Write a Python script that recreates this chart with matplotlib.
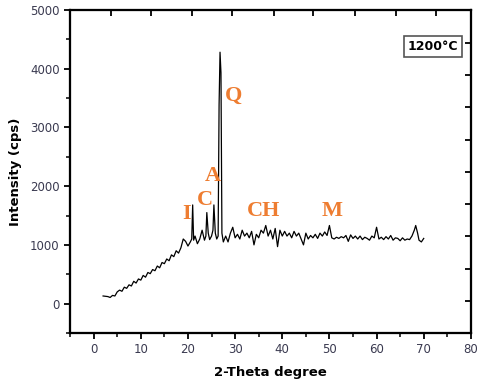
import matplotlib
matplotlib.use("Agg")
import matplotlib.pyplot as plt

# ---- data ----
two_theta = [2.0, 2.5, 3.0, 3.5, 4.0, 4.5, 5.0, 5.5, 6.0, 6.5, 7.0, 7.5, 8.0, 8.5, 9.0, 9.5,
             10.0, 10.5, 11.0, 11.5, 12.0, 12.5, 13.0, 13.5, 14.0, 14.5, 15.0, 15.5, 16.0, 16.5,
             17.0, 17.5, 18.0, 18.5, 19.0, 19.5, 20.0, 20.5, 20.8, 21.0, 21.2, 21.5, 22.0, 22.5,
             23.0, 23.5, 23.8, 24.0, 24.3, 24.6, 25.0, 25.3, 25.5, 25.8, 26.1, 26.4, 26.6, 26.8,
             27.0, 27.2, 27.5, 28.0, 28.5, 29.0, 29.5, 30.0, 30.5, 31.0, 31.5, 32.0, 32.5, 33.0,
             33.5, 34.0, 34.5, 35.0, 35.5, 36.0, 36.5, 37.0, 37.5, 38.0, 38.5, 39.0, 39.5, 40.0,
             40.5, 41.0, 41.5, 42.0, 42.5, 43.0, 43.5, 44.0, 44.5, 45.0, 45.5, 46.0, 46.5, 47.0,
             47.5, 48.0, 48.5, 49.0, 49.5, 50.0, 50.5, 51.0, 51.5, 52.0, 52.5, 53.0, 53.5, 54.0,
             54.5, 55.0, 55.5, 56.0, 56.5, 57.0, 57.5, 58.0, 58.5, 59.0, 59.5, 60.0, 60.5, 61.0,
             61.5, 62.0, 62.5, 63.0, 63.5, 64.0, 64.5, 65.0, 65.5, 66.0, 66.5, 67.0, 67.5, 68.0,
             68.3, 68.7, 69.0, 69.5, 70.0]
intensity = [130, 125, 120, 105, 140, 130, 200, 230, 210, 280, 260, 320, 300, 380, 350, 420,
             400, 480, 450, 530, 510, 580, 560, 640, 610, 700, 680, 760, 730, 830,
             800, 900, 860, 950, 1100, 1060, 980, 1050, 1100, 1680, 1080, 1150, 1020, 1100,
             1250, 1080, 1150, 1550, 1200, 1090, 1150, 1250, 1680, 1200, 1100, 1150, 3380, 4280,
             3930, 1200, 1050, 1150, 1050, 1200, 1300, 1120, 1180, 1100, 1250, 1150, 1200, 1120,
             1230, 1000, 1180, 1120, 1250, 1200, 1330, 1150, 1250, 1100, 1280, 970, 1250, 1150,
             1230, 1150, 1200, 1120, 1230, 1150, 1200, 1100, 1000, 1200, 1100, 1160, 1120, 1180,
             1110, 1200, 1150, 1220, 1160, 1330, 1120, 1100, 1130, 1110, 1140, 1120, 1160, 1060,
             1170, 1110, 1150, 1100, 1150, 1090, 1130, 1110, 1080, 1150, 1120, 1300, 1100, 1130,
             1090, 1140, 1100, 1160, 1080, 1120, 1110, 1070, 1120, 1080, 1100, 1090, 1150, 1250,
             1330, 1200, 1080, 1050, 1110]

phase_labels = ["I", "C", "A", "Q", "CH", "M"]
phase_x = [19.7, 23.5, 25.2, 29.7, 36.0, 50.6]
phase_y = [1520, 1770, 2170, 3530, 1570, 1570]

temp_label = "1200\u00b0C"

# ---- figure ----
fig = plt.figure(figsize=(4.8, 3.81), dpi=100)
ax = fig.add_axes([0.146, 0.126, 0.835, 0.848])

ax.plot(two_theta, intensity, color="black", lw=0.9)

ax.set_xlim(-5, 80)
ax.set_ylim(-500, 5000)
ax.set_xticks(range(0, 81, 10))
ax.set_xticks(range(-5, 81, 5), minor=True)
ax.set_yticks(range(0, 5001, 1000))
ax.set_yticks(range(-500, 5001, 500), minor=True)

tick_color = "#3a3a50"
ax.tick_params(which="major", direction="out", length=4, width=1.3,
               labelsize=8.5, labelcolor=tick_color, top=False, right=False)
ax.tick_params(which="minor", direction="out", length=3, width=1.1, top=False, right=False)

for s in ax.spines.values():
    s.set_linewidth(1.5)

# mirrored (inward) ticks on top/right
axt = ax.twiny()
axt.set_xlim(ax.get_xlim())
axt.set_xticks([3.6, 12.2, 20.8, 29.4, 38.3, 46.5, 55.4, 64.1, 72.7])
axt.tick_params(direction="in", length=4, width=1.3, labeltop=False)
axr = ax.twinx()
axr.set_ylim(ax.get_ylim())
axr.set_yticks([50, 595, 1155, 1700, 2245, 2790, 3350, 3895, 4440])
axr.tick_params(direction="in", length=4, width=1.3, labelright=False)
for a in (axt, axr):
    for s in a.spines.values():
        s.set_linewidth(1.5)

ax.set_xlabel("2-Theta degree", fontsize=9.5, fontweight="bold", labelpad=7)
ax.set_ylabel("Intensity (cps)", fontsize=9.5, fontweight="bold", labelpad=6)

orange = "#EE7D31"
for lab, x, y in zip(phase_labels, phase_x, phase_y):
    ax.text(x, y, lab, color=orange, fontsize=16, fontweight="bold",
            family="Liberation Serif", ha="center", va="center")

ax.text(0.905, 0.886, temp_label, transform=ax.transAxes, fontsize=9,
        fontweight="bold", ha="center", va="center",
        bbox=dict(boxstyle="square,pad=0.3", fc="white", ec="#555555", lw=1.2))

fig.savefig("out.png", dpi=100)
